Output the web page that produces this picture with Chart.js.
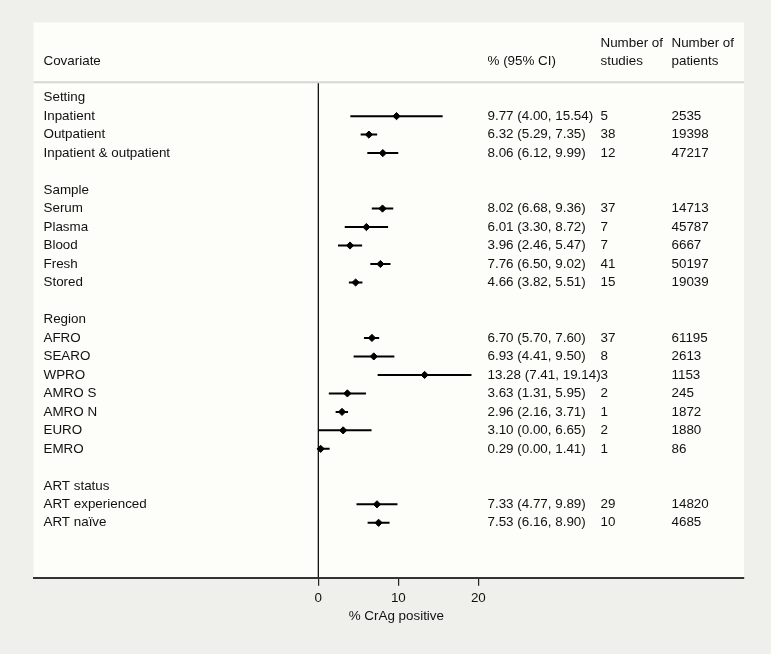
<!DOCTYPE html>
<html>
<head>
<meta charset="utf-8">
<script src="https://cdn.jsdelivr.net/npm/chart.js@4/dist/chart.umd.min.js"></script>
<style>
  html, body { margin: 0; padding: 0; background: #efefeb; }
  #wrap { width: 771px; height: 654px; }
</style>
</head>
<body>
<div id="wrap"><canvas id="c" width="771" height="654"></canvas></div>
<script>
// ---- Data ----
const rowLabels = ['Setting', 'Inpatient', 'Outpatient', 'Inpatient & outpatient', '',
  'Sample', 'Serum', 'Plasma', 'Blood', 'Fresh', 'Stored', '',
  'Region', 'AFRO', 'SEARO', 'WPRO', 'AMRO S', 'AMRO N', 'EURO', 'EMRO', '',
  'ART status', 'ART experienced', 'ART naïve'];
const estimate = [null, 9.77, 6.32, 8.06, null,
  null, 8.02, 6.01, 3.96, 7.76, 4.66, null,
  null, 6.70, 6.93, 13.28, 3.63, 2.96, 3.10, 0.29, null,
  null, 7.33, 7.53];
const lower = [null, 4.00, 5.29, 6.12, null,
  null, 6.68, 3.30, 2.46, 6.50, 3.82, null,
  null, 5.70, 4.41, 7.41, 1.31, 2.16, 0.00, 0.00, null,
  null, 4.77, 6.16];
const upper = [null, 15.54, 7.35, 9.99, null,
  null, 9.36, 8.72, 5.47, 9.02, 5.51, null,
  null, 7.60, 9.50, 19.14, 5.95, 3.71, 6.65, 1.41, null,
  null, 9.89, 8.90];
const nStudies = ['', '5', '38', '12', '',
  '', '37', '7', '7', '41', '15', '',
  '', '37', '8', '3', '2', '1', '2', '1', '',
  '', '29', '10'];
const nPatients = ['', '2535', '19398', '47217', '',
  '', '14713', '45787', '6667', '50197', '19039', '',
  '', '61195', '2613', '1153', '245', '1872', '1880', '86', '',
  '', '14820', '4685'];
const xTicks = [0, 10, 20];
const xTitle = '% CrAg positive';
const headers = { covariate: 'Covariate', ci: '% (95% CI)', studies: ['Number of', 'studies'], patients: ['Number of', 'patients'] };

// ---- Build datasets from the arrays ----
const ciSegments = [];
const points = [];
estimate.forEach((e, i) => {
  if (e === null) return;
  ciSegments.push({ x: lower[i], y: i }, { x: upper[i], y: i }, { x: null, y: null });
  points.push({ x: e, y: i });
});
const ciText = estimate.map((e, i) => e === null ? '' :
  `${e.toFixed(2)} (${lower[i].toFixed(2)}, ${upper[i].toFixed(2)})`);

const FONT = '"Liberation Sans", Arial, Helvetica, sans-serif';
const FS = 13.4;

const PANEL = { left: 33.5, top: 22.5, right: 744 };

const decor = {
  id: 'decor',
  beforeDraw(chart) {
    const { ctx, chartArea, scales } = chart;
    ctx.save();
    ctx.fillStyle = '#efefeb';
    ctx.fillRect(0, 0, chart.width, chart.height);
    ctx.fillStyle = '#fdfdf9';
    ctx.fillRect(PANEL.left, PANEL.top, PANEL.right - PANEL.left, chartArea.bottom - PANEL.top);
    // header separator
    ctx.strokeStyle = '#d6d6d2';
    ctx.lineWidth = 2;
    ctx.beginPath();
    ctx.moveTo(PANEL.left, chartArea.top);
    ctx.lineTo(PANEL.right, chartArea.top);
    ctx.stroke();
    // zero line
    const x0 = scales.x.getPixelForValue(0);
    ctx.strokeStyle = '#111';
    ctx.lineWidth = 1.3;
    ctx.beginPath();
    ctx.moveTo(x0, chartArea.top + 1);
    ctx.lineTo(x0, chartArea.bottom);
    ctx.stroke();
    ctx.restore();
  },
  afterDraw(chart) {
    const { ctx, scales } = chart;
    ctx.save();
    ctx.fillStyle = '#111';
    ctx.font = `${FS}px ${FONT}`;
    ctx.textBaseline = 'middle';
    ctx.textAlign = 'left';
    const colLabel = 43.5, colCI = 487.5, colStudies = 600.5, colPatients = 671.5;
    // headers
    ctx.fillText(headers.covariate, colLabel, 61);
    ctx.fillText(headers.ci, colCI, 61);
    ctx.fillText(headers.studies[0], colStudies, 43);
    ctx.fillText(headers.studies[1], colStudies, 61);
    ctx.fillText(headers.patients[0], colPatients, 43);
    ctx.fillText(headers.patients[1], colPatients, 61);
    // rows
    rowLabels.forEach((lab, i) => {
      const y = scales.y.getPixelForValue(i);
      if (lab) ctx.fillText(lab, colLabel, y);
      if (ciText[i]) ctx.fillText(ciText[i], colCI, y);
      if (nStudies[i]) ctx.fillText(nStudies[i], colStudies, y);
      if (nPatients[i]) ctx.fillText(nPatients[i], colPatients, y);
    });
    // axis title
    ctx.textAlign = 'center';
    ctx.fillText(xTitle, scales.x.getPixelForValue(10) - 2, 616);
    ctx.restore();
  }
};

new Chart(document.getElementById('c'), {
  type: 'scatter',
  data: {
    datasets: [
      {
        type: 'line',
        data: ciSegments,
        borderColor: '#000',
        borderWidth: 2,
        pointRadius: 0,
        spanGaps: false,
        fill: false,
        order: 2
      },
      {
        data: points,
        pointStyle: 'rectRot',
        pointRadius: 3.6,
        pointBorderWidth: 1,
        backgroundColor: '#000',
        borderColor: '#000',
        order: 1
      }
    ]
  },
  plugins: [decor],
  options: {
    responsive: false,
    animation: false,
    events: [],
    layout: { padding: { left: PANEL.left, right: 771 - PANEL.right, top: 82.3, bottom: 36.3 } },
    plugins: { legend: { display: false }, tooltip: { enabled: false } },
    scales: {
      x: {
        type: 'linear',
        min: -35.6,
        max: 53.2,
        afterBuildTicks: s => { s.ticks = xTicks.map(v => ({ value: v })); },
        afterFit: s => { s.height = 40; },
        grid: { display: true, drawOnChartArea: false, drawTicks: true, tickLength: 8, color: '#222', lineWidth: 1.2 },
        border: { display: true, color: '#333', width: 2 },
        ticks: { color: '#111', font: { family: FONT, size: FS }, padding: 5, maxRotation: 0, autoSkip: false }
      },
      y: {
        type: 'linear',
        display: false,
        reverse: true,
        min: -0.83,
        max: 25.97
      }
    }
  }
});
</script>
</body>
</html>
